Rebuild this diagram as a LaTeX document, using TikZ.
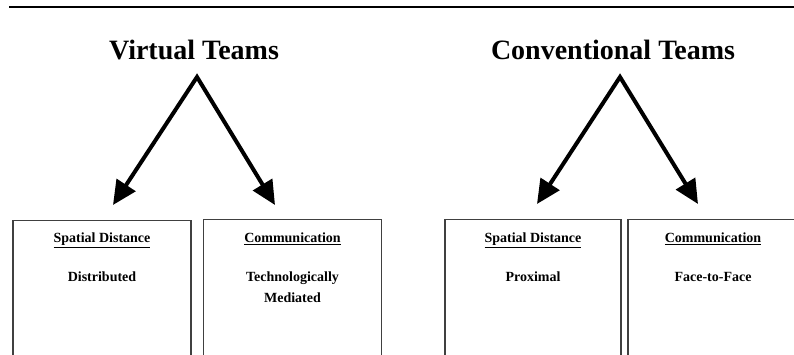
\documentclass[tikz,border=0pt]{standalone}
\usepackage{fontspec}
\setmainfont{Liberation Serif}
\usetikzlibrary{positioning}
\usetikzlibrary{arrows.meta}
\tikzset{
    title/.style = {font=\fontsize{28}{32}\selectfont\bfseries, inner sep=0pt, anchor=base},
    box/.style = {rectangle, draw=black!75, line width=1.1pt, minimum width=178pt, minimum height=170pt, anchor=north},
    head/.style = {font=\fontsize{14}{17}\selectfont\bfseries, inner sep=0pt},
    entry/.style = {font=\fontsize{14}{21}\selectfont\bfseries, align=center, inner sep=0pt},
    edgev/.style = {{Triangle[length=24pt,width=22pt]}-{Triangle[length=24pt,width=22pt]}, line width=4pt, line join=miter}, % split
}

\begin{document}
\begin{tikzpicture}[x=1pt,y=1pt]
\clip (0,0) rectangle (794,354);
\draw[line width=2.5pt] (9,347) -- (794,347);
%
\node[title] at (194,294) (vt) {Virtual Teams};
\node[title] at (613,294) (ct) {Conventional Teams};
\coordinate (vt-top) at (197,277);
\coordinate (vt-l) at (113,149);
\coordinate (vt-r) at (275,149);
\coordinate (ct-top) at (620,277);
\coordinate (ct-l) at (537,150);
\coordinate (ct-r) at (698,150);
\draw[edgev] (vt-l) -- (vt-top) -- (vt-r);
\draw[edgev] (ct-l) -- (ct-top) -- (ct-r);
%
\node[box] at (102,134) (b1) {};
\node[box] at (292.5,135) (b2) {};
\node[box, minimum width=176pt] at (533,135) (b3) {};
\node[box, minimum width=170pt] at (713,135) (b4) {};
%
\node[head, below=13pt of b1.north] (h1) {\underline{Spatial Distance}};
\node[entry, below=52pt of b1.north] (e1) {Distributed};
\node[head, below=14pt of b2.north] (h2) {\underline{Communication}};
\node[entry, below=53pt of b2.north] (e2) {Technologically\\Mediated};
\node[head, below=14pt of b3.north] (h3) {\underline{Spatial Distance}};
\node[entry, below=53pt of b3.north] (e3) {Proximal};
\node[head, below=14pt of b4.north] (h4) {\underline{Communication}};
\node[entry, below=53pt of b4.north] (e4) {Face-to-Face};

\end{tikzpicture}
\end{document}
